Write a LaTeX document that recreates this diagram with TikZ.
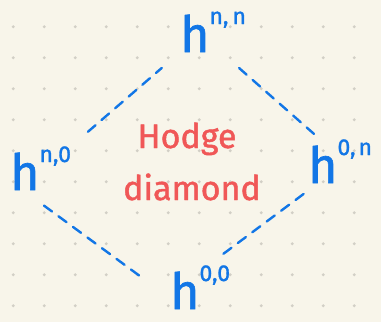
\documentclass[tikz,border=0pt]{standalone}
\usepackage{fontspec}
\setmainfont{Fira Sans}
\newfontfamily\inkfont[FakeBold=1.3]{Fira Sans}
\definecolor{paper}{HTML}{F8F5EA}
\definecolor{gridgrey}{HTML}{D2CFC6}
\definecolor{inkblue}{HTML}{1276E6}
\definecolor{inkred}{HTML}{F05757}
\usetikzlibrary{calc}
\newcommand{\hodgenum}[1]{\fontsize{50}{50}\selectfont h\raisebox{28pt}{\fontsize{23}{23}\selectfont #1}}
\tikzset{
  hodge/.style={text=inkblue,inner sep=0pt,anchor=base west,font=\inkfont},
  dashedge/.style={inkblue,line width=2.4pt,line cap=round,dash pattern=on 10pt off 8pt},
  title/.style={text=inkred,anchor=base,font=\fontsize{34}{34}\inkfont},
}

\begin{document}
\begin{tikzpicture}[x=1pt,y=-1pt]
  \fill[paper] (0,0) rectangle (381,322);
  \useasboundingbox (0,0) rectangle (381,322);
  % dot grid
  \foreach \i in {0,...,11}
    \foreach \j in {0,...,9}
      \fill[gridgrey] (13.3+31*\i,26.7+31*\j) circle (1.6);
  % corners
  \node[hodge] (nn) at (180,52) {\hodgenum{n,\hspace{4pt}n}};
  \node[hodge] (nzero) at (10,190) {\hodgenum{n,0}};
  \node[hodge] (zeron) at (308,183) {\hodgenum{0,\hspace{3pt}n}};
  \node[hodge] (zz) at (170,309) {\hodgenum{0,0}};
  % middle
  \node[title] (hodge) at (187,148) {Hodge};
  \node[title] (diamond) at (192,200) {diamond};
  % dashed sides
  \draw[dashedge,shorten <=22pt,shorten >=24pt] (nzero.north east) -- (nn.south west);
  \draw[dashedge,shorten <=24pt,shorten >=8pt] ([xshift=8pt]nn.south) -- ([xshift=12pt]zeron.north west);
  \draw[dashedge,shorten <=18pt,shorten >=16pt] ([xshift=10pt]zeron.south west) -- ([xshift=8pt]zz.north);
  \draw[dashedge,shorten <=26pt,shorten >=32pt] ([xshift=13pt]nzero.south west) -- (zz.200);
\end{tikzpicture}
\end{document}
